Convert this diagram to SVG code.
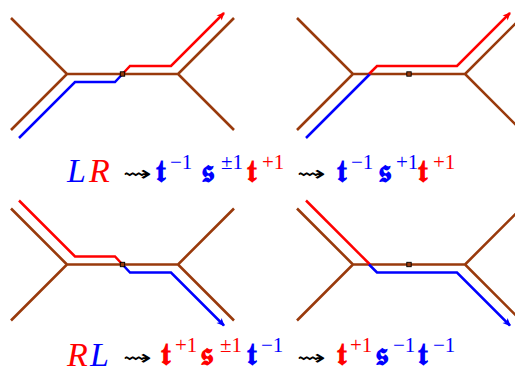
<svg xmlns="http://www.w3.org/2000/svg" width="515" height="374" viewBox="0 0 515 374">
<style>
.br{fill:none;stroke:#993a0c;stroke-width:2.6;stroke-linejoin:miter}
.rd{fill:none;stroke:#ff0000;stroke-width:2.5}
.bl{fill:none;stroke:#0000ff;stroke-width:2.5}
.sq{fill:#993a0c;stroke:#000;stroke-width:0.9}
.it{font-family:"Liberation Serif",serif;font-style:italic;font-size:34px}
.fk{font-family:"DejaVu Serif","DejaVu Sans","Noto Sans",serif;font-weight:bold;font-size:31px}
.sp{font-family:"Liberation Serif",serif;font-size:21px}
.ar{font-family:"DejaVu Sans",sans-serif;font-size:21px;fill:#000}
.R{fill:#ff0000}.B{fill:#0000ff}
</style>
<defs>
<marker id="mr" viewBox="-8 -4 9 8" refX="0" refY="0" markerWidth="9" markerHeight="8" markerUnits="userSpaceOnUse" orient="auto"><path d="M1,0 L-7,-3.6 L-5,0 L-7,3.6 z" fill="#ff0000"/></marker>
<marker id="mb" viewBox="-8 -4 9 8" refX="0" refY="0" markerWidth="9" markerHeight="8" markerUnits="userSpaceOnUse" orient="auto"><path d="M1,0 L-7,-3.6 L-5,0 L-7,3.6 z" fill="#0000ff"/></marker>
</defs>
<g id="panel-top-left">
<path class="br" d="M11,18 L67,74 L11,130 M67,74 H178 M234,18 L178,74 L234,130"/>
<path class="bl" d="M19,138 L75,82 H115 L122.5,74"/>
<path class="rd" d="M122.5,74 L130,66 H171 L224,13" marker-end="url(#mr)"/>
<rect class="sq" x="120.3" y="71.8" width="4.4" height="4.4"/>
</g>
<g id="panel-top-right">
<path class="br" d="M297,18 L353,74 L297,130 M353,74 H465 M521,18 L465,74 L521,130"/>
<path class="bl" d="M306,138 L370,74"/>
<path class="rd" d="M369,74 L377,66 H457 L510,13" marker-end="url(#mr)"/>
<rect class="sq" x="406.8" y="71.8" width="4.4" height="4.4"/>
</g>
<g id="panel-bottom-left">
<path class="br" d="M11,320.5 L67,264.5 L11,208.5 M67,264.5 H178 M234,320.5 L178,264.5 L234,208.5"/>
<path class="rd" d="M19,200.5 L75,256.5 H115 L122.5,264.5"/>
<path class="bl" d="M122.5,264.5 L130,272.5 H171 L224,325.5" marker-end="url(#mb)"/>
<rect class="sq" x="120.3" y="262.3" width="4.4" height="4.4"/>
</g>
<g id="panel-bottom-right">
<path class="br" d="M297,320.5 L353,264.5 L297,208.5 M353,264.5 H465 M521,320.5 L465,264.5 L521,208.5"/>
<path class="rd" d="M306,200.5 L370,264.5"/>
<path class="bl" d="M369,264.5 L377,272.5 H457 L510,325.5" marker-end="url(#mb)"/>
<rect class="sq" x="406.8" y="262.3" width="4.4" height="4.4"/>
</g>
<g id="formula-top">
<text class="it B" x="67" y="182">L</text>
<text class="it R" x="89" y="182">R</text>
<text class="ar" x="123" y="181" textLength="29" lengthAdjust="spacingAndGlyphs">⇝</text>
<text class="fk B" x="156" y="182">𝖙</text>
<text class="sp B" x="170" y="168.5">−1</text>
<text class="fk B" x="201" y="182">𝖘</text>
<text class="sp B" x="221" y="168.5">±1</text>
<text class="fk R" x="247" y="182">𝖙</text>
<text class="sp R" x="262" y="168.5">+1</text>
<text class="ar" x="297" y="181" textLength="29" lengthAdjust="spacingAndGlyphs">⇝</text>
<text class="fk B" x="337" y="182">𝖙</text>
<text class="sp B" x="351" y="168.5">−1</text>
<text class="fk B" x="378" y="182">𝖘</text>
<text class="sp B" x="396" y="168.5">+1</text>
<text class="fk R" x="418" y="182">𝖙</text>
<text class="sp R" x="433" y="168.5">+1</text>
</g>
<g id="formula-bottom">
<text class="it R" x="67" y="366">R</text>
<text class="it B" x="90" y="366">L</text>
<text class="ar" x="123" y="365" textLength="29" lengthAdjust="spacingAndGlyphs">⇝</text>
<text class="fk R" x="161" y="365">𝖙</text>
<text class="sp R" x="175" y="352">+1</text>
<text class="fk R" x="200" y="365">𝖘</text>
<text class="sp R" x="220" y="352">±1</text>
<text class="fk B" x="247" y="365">𝖙</text>
<text class="sp B" x="261" y="352">−1</text>
<text class="ar" x="297" y="365" textLength="29" lengthAdjust="spacingAndGlyphs">⇝</text>
<text class="fk R" x="337" y="365">𝖙</text>
<text class="sp R" x="350" y="352">+1</text>
<text class="fk B" x="375" y="365">𝖘</text>
<text class="sp B" x="393" y="352">−1</text>
<text class="fk B" x="418" y="365">𝖙</text>
<text class="sp B" x="433" y="352">−1</text>
</g>
</svg>
